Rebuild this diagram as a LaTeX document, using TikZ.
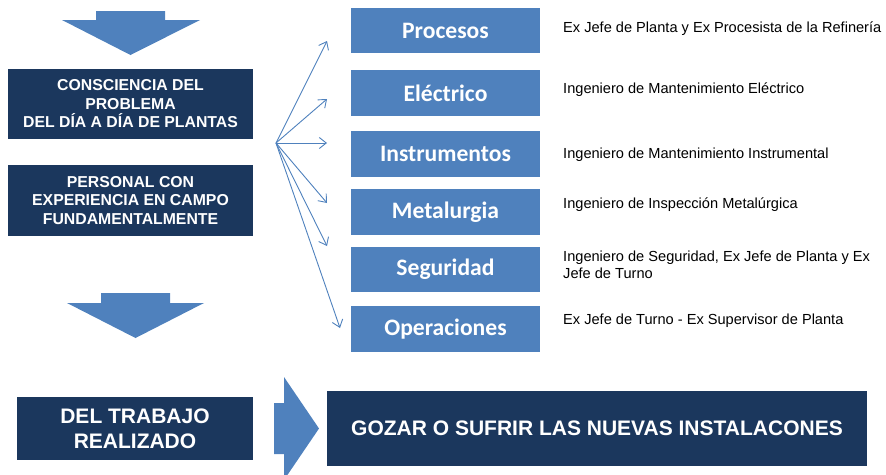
\documentclass[tikz,border=0pt]{standalone}
\usepackage{fontspec}
\setmainfont{Liberation Sans}
\newfontfamily\areafont{Carlito}
\usetikzlibrary{arrows.meta}

\definecolor{navy}{HTML}{1B375D}
\definecolor{steel}{HTML}{4F81BD}

\newcommand\darkfont{\bfseries\fontsize{15.8}{18.5}\selectfont}
\newcommand\bigfont{\bfseries\fontsize{21}{25}\selectfont}
\newcommand\rolefont{\fontsize{14.6}{17}\selectfont}

\tikzset{
  darkbox/.style={fill=navy, text=white, align=center, inner sep=0pt, font=\darkfont},
  areabox/.style={fill=steel, text=white, inner sep=0pt, minimum width=189pt,
    minimum height=45.5pt, font=\areafont\bfseries\fontsize{23.6}{26}\selectfont},
  roletext/.style={anchor=west, align=left, inner sep=0pt, font=\rolefont},
  fanarrow/.style={draw=steel, line width=0.9pt, -{Straight Barb[length=7pt,width=11pt]}},
  blockarrow/.style={fill=steel},
}

\begin{document}
\begin{tikzpicture}[x=1pt, y=-1pt]
  \useasboundingbox (0,0) rectangle (886,474);

  % block arrows
  \fill[blockarrow] (96,11) -- (165,11) -- (165,20) -- (200,20) -- (130.5,55)
    -- (62,20) -- (96,20) -- cycle;
  \fill[blockarrow] (101,293) -- (170,293) -- (170,303) -- (204,303) -- (135.5,338)
    -- (67,303) -- (101,303) -- cycle;
  \fill[blockarrow] (274,403) -- (284,403) -- (284,377) -- (319,428.5) -- (284,480)
    -- (284,454) -- (274,454) -- cycle;

  % left column
  \node[darkbox, minimum width=245pt, minimum height=70pt] (conciencia) at (130.5,104)
    {CONSCIENCIA DEL\\PROBLEMA\\DEL DÍA A DÍA DE PLANTAS};
  \node[darkbox, minimum width=245pt, minimum height=71pt] (personal) at (130.5,200.5)
    {PERSONAL CON\\EXPERIENCIA EN CAMPO\\FUNDAMENTALMENTE};
  \node[darkbox, font=\bigfont, minimum width=236pt, minimum height=63pt] (trabajo) at (135,428.5)
    {DEL TRABAJO\\REALIZADO};
  \node[darkbox, font=\bigfont, minimum width=540pt, minimum height=75pt] (gozar) at (597,428.5)
    {GOZAR O SUFRIR LAS NUEVAS INSTALACONES};

  % areas
  \node[areabox] (procesos) at (445.5,30.5) {Procesos};
  \node[areabox] (electrico) at (445.5,93) {Eléctrico};
  \node[areabox] (instrumentos) at (445.5,154) {Instrumentos};
  \node[areabox] (metalurgia) at (445.5,212) {Metalurgia};
  \node[areabox] (seguridad) at (445.5,269.5) {Seguridad};
  \node[areabox] (operaciones) at (445.5,329) {Operaciones};

  % roles
  \node[roletext] (rprocesos) at (563,29) {Ex Jefe de Planta y Ex Procesista de la Refinería};
  \node[roletext] (relectrico) at (563,90) {Ingeniero de Mantenimiento Eléctrico};
  \node[roletext] (rinstrumentos) at (563,155) {Ingeniero de Mantenimiento Instrumental};
  \node[roletext] (rmetalurgia) at (563,205) {Ingeniero de Inspección Metalúrgica};
  \node[roletext] (rseguridad) at (563,265) {Ingeniero de Seguridad, Ex Jefe de Planta y Ex\\Jefe de Turno};
  \node[roletext] (roperaciones) at (563,321) {Ex Jefe de Turno - Ex Supervisor de Planta};

  % fan of arrows
  \coordinate (fan) at (276,143);
  \coordinate (t1) at (327,41);
  \coordinate (t2) at (327,99);
  \coordinate (t3) at (327,143);
  \coordinate (t4) at (327,203);
  \coordinate (t5) at (327,246);
  \coordinate (t6) at (340,328);
  \foreach \i in {1,...,6}
    \draw[fanarrow] (fan) -- (t\i);
\end{tikzpicture}
\end{document}
